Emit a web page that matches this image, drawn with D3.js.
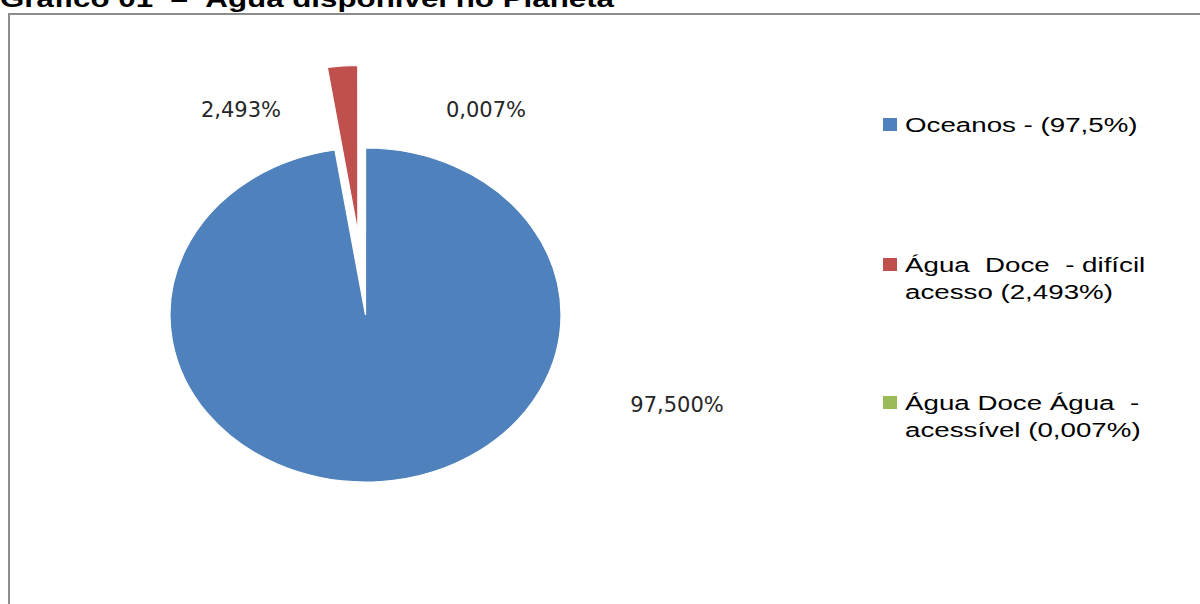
<!DOCTYPE html>
<html>
<head>
<meta charset="utf-8">
<script src="https://cdn.jsdelivr.net/npm/d3@7"></script>
<style>
  html, body { margin: 0; padding: 0; background: #fff; }
  svg { display: block; }
  text { white-space: pre; }
</style>
</head>
<body>
<svg id="chart" width="1200" height="604"></svg>
<script>
// ---- data ----
const titleText = "Gráfico 01  –  Água disponível no Planeta";
const categories = ["Oceanos", "Água Doce - difícil acesso", "Água Doce Água - acessível"];
const values = [97.5, 2.493, 0.007];
const valueLabels = ["97,500%", "2,493%", "0,007%"];
const legendLines = [
  ["Oceanos - (97,5%)"],
  ["Água  Doce  - difícil", "acesso (2,493%)"],
  ["Água Doce Água  -", "acessível (0,007%)"]
];
const colors = ["#4F81BD", "#C0504D", "#9BBB59"];
const exploded = [false, true, true];

// ---- layout ----
const W = 1200, H = 604;
const cx = 365.5, cy = 315, rx = 195.5, ry = 167;
const explodeDist = 97;
const labelPos = [[677, 412], [241, 117], [486, 117]];
const legendX = 883, legendTextX = 905;
const legendBaselines = [132, 272, 410];
const lineGap = 27;
const textStretch = 1.32;

const svg = d3.select("#chart");

// frame
svg.append("rect")
  .attr("x", 9).attr("y", 14)
  .attr("width", W + 20).attr("height", H + 20)
  .attr("fill", "#fff")
  .attr("stroke", "#8c8c8c").attr("stroke-width", 2);

// title
svg.append("text")
  .attr("x", 0).attr("y", 7)
  .attr("textLength", 614).attr("lengthAdjust", "spacingAndGlyphs")
  .attr("font-family", "Liberation Sans, Arial, sans-serif")
  .attr("font-weight", "bold").attr("font-size", 24)
  .attr("fill", "#000")
  .text(titleText);

// pie
const pie = d3.pie().sort(null).value(d => d)(values);
const arc = d3.arc().innerRadius(0).outerRadius(rx);
const pieG = svg.append("g")
  .attr("transform", `translate(${cx},${cy}) scale(1,${ry / rx})`);

pieG.selectAll("path.slice")
  .data(pie)
  .join("path")
  .attr("class", "slice")
  .attr("d", arc)
  .attr("fill", (d, i) => colors[i])
  .attr("stroke", "#fff")
  .attr("stroke-width", 1.2)
  .attr("transform", (d, i) => {
    if (!exploded[i]) return null;
    const a = (d.startAngle + d.endAngle) / 2;
    return `translate(${explodeDist * Math.sin(a)},${-explodeDist * Math.cos(a)})`;
  });

// data labels
svg.selectAll("text.vlabel")
  .data(valueLabels)
  .join("text")
  .attr("class", "vlabel")
  .attr("x", (d, i) => labelPos[i][0])
  .attr("y", (d, i) => labelPos[i][1])
  .attr("text-anchor", "middle")
  .attr("font-family", "DejaVu Sans, Verdana, sans-serif")
  .attr("font-size", 21)
  .attr("fill", "#262626")
  .text(d => d);

// legend
const leg = svg.selectAll("g.legend")
  .data(categories)
  .join("g")
  .attr("class", "legend");

leg.append("rect")
  .attr("x", legendX)
  .attr("y", (d, i) => legendBaselines[i] - 14)
  .attr("width", 14).attr("height", 13)
  .attr("fill", (d, i) => colors[i]);

leg.each(function (d, i) {
  const g = d3.select(this).append("g")
    .attr("transform", `translate(${legendTextX},${legendBaselines[i]}) scale(${textStretch},1)`);
  g.selectAll("text")
    .data(legendLines[i])
    .join("text")
    .attr("x", 0)
    .attr("y", (t, j) => j * lineGap)
    .attr("font-family", "Liberation Sans, Arial, sans-serif")
    .attr("font-size", 21)
    .attr("fill", "#000")
    .text(t => t);
});
</script>
</body>
</html>
